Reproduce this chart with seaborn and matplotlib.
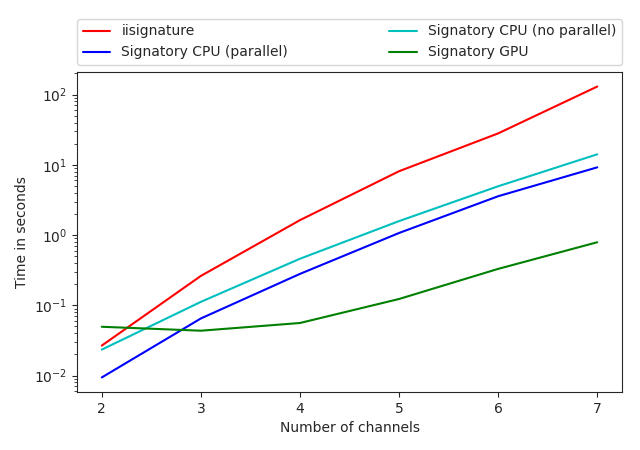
import numpy as np
import pandas as pd
import matplotlib
matplotlib.use('Agg')
import matplotlib.pyplot as plt
import seaborn as sns

channels = [2, 3, 4, 5, 6, 7]
iisignature = [0.0267, 0.262, 1.63, 8.1, 28.0, 130.0]
cpu_parallel = [0.0094, 0.065, 0.28, 1.07, 3.57, 9.2]
cpu_no_parallel = [0.0234, 0.112, 0.46, 1.58, 4.95, 14.1]
gpu = [0.0495, 0.0435, 0.056, 0.123, 0.33, 0.79]

series = {
    'iisignature': (iisignature, 'r'),
    'Signatory CPU (parallel)': (cpu_parallel, 'b'),
    'Signatory CPU (no parallel)': (cpu_no_parallel, 'c'),
    'Signatory GPU': (gpu, 'g'),
}

sns.set_style('ticks')
plt.rcParams['font.family'] = ['DejaVu Sans']

fig, ax = plt.subplots(figsize=(6.4, 4.5), dpi=100)
for name, (vals, col) in series.items():
    df = pd.DataFrame({'channels': channels, 'time': vals})
    sns.lineplot(data=df, x='channels', y='time', color=col, label=name, ax=ax)

ax.set_yscale('log')
ax.set_xlabel('Number of channels')
ax.set_ylabel('Time in seconds')
ax.legend(bbox_to_anchor=(0, 1.022, 1, 0.2), loc='lower left', mode='expand',
          ncol=2, borderaxespad=0, frameon=True)
fig.subplots_adjust(left=0.1203, right=0.9719, top=0.84, bottom=0.1289)
plt.savefig('out.png')
